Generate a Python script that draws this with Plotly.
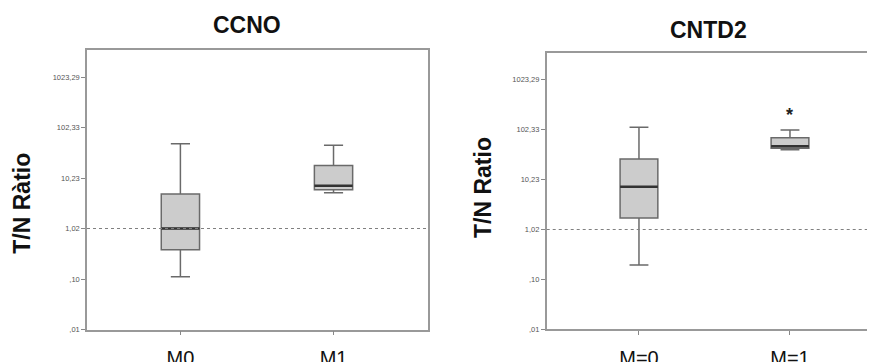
import math
import plotly.graph_objects as go

# ---- data ----
panels = ["CCNO", "CNTD2"]
y_titles = ["T/N Ràtio", "T/N Ratio"]
cat_labels = [["M0", "M1"], ["M=0", "M=1"]]

ccno_lower = [0.113, 5.21]
ccno_q1 = [0.387, 5.97]
ccno_median = [1.02, 7.17]
ccno_q3 = [4.91, 18.1]
ccno_upper = [48.7, 45.8]

cntd2_lower = [0.199, 40.6]
cntd2_q1 = [1.74, 43.4]
cntd2_median = [7.38, 47.5]
cntd2_q3 = [26.5, 70.8]
cntd2_upper = [114.0, 101.0]

tick_vals = [0.0102329, 0.102329, 1.02329, 10.2329, 102.329, 1023.29]
tick_text = [",01", ",10", "1,02", "10,23", "102,33", "1023,29"]
ref_value = 1.02329
significant = [[False, False], [False, True]]

FONT = "Liberation Sans, Arial, sans-serif"
BOX_W = 0.25
OFF = 8  # page body margin offset
W, H = 875 - OFF, 362 - OFF


def px(xp):
    return (xp - OFF) / W


def py(yp):
    return 1 - (yp - OFF) / H


fig = go.Figure()

stats = [
    (ccno_lower, ccno_q1, ccno_median, ccno_q3, ccno_upper),
    (cntd2_lower, cntd2_q1, cntd2_median, cntd2_q3, cntd2_upper),
]
xranges = [[-0.610, 1.617], [-0.611, 1.563]]
right_end = 875.0

for p, (lo, q1, med, q3, up) in enumerate(stats):
    xa = "x" if p == 0 else "x2"
    ya = "y" if p == 0 else "y2"
    fig.add_trace(go.Box(
        x=[0, 1], q1=q1, median=med, q3=q3, lowerfence=lo, upperfence=up,
        width=BOX_W, whiskerwidth=0.5,
        fillcolor="#cccccc", line=dict(color="#6a6a6a", width=1.5),
        xaxis=xa, yaxis=ya, showlegend=False, hoverinfo="skip",
    ))
    # darker median bars
    for i, m in enumerate(med):
        fig.add_trace(go.Scatter(
            x=[i - BOX_W / 2, i + BOX_W / 2], y=[m, m], mode="lines",
            line=dict(color="#333333", width=2.5),
            xaxis=xa, yaxis=ya, showlegend=False, hoverinfo="skip",
        ))
    # dotted reference line
    fig.add_trace(go.Scatter(
        x=xranges[p], y=[ref_value, ref_value], mode="lines",
        line=dict(color="#808080", width=1.2, dash="dot"),
        xaxis=xa, yaxis=ya, showlegend=False, hoverinfo="skip",
    ))
    for i, sig in enumerate(significant[p]):
        if sig:
            fig.add_annotation(
                x=i, y=math.log10(up[i]), xref=xa, yref=ya, text="<b>*</b>",
                showarrow=False, yshift=15,
                font=dict(family=FONT, size=18, color="#222222"),
            )

yaxis_common = dict(
    type="log", tickvals=tick_vals, ticktext=tick_text, ticks="outside",
    ticklen=4, tickwidth=1, tickcolor="#888888", showgrid=False, zeroline=False,
    showline=True, linecolor="#999999", linewidth=1.5, automargin=False,
    tickfont=dict(family=FONT, size=7.5, color="#555555"),
)
xaxis_common = dict(
    tickvals=[0, 1], ticks="outside", ticklen=4, tickwidth=1, tickcolor="#888888",
    showgrid=False, zeroline=False, showline=True, linecolor="#999999", linewidth=1.5,
    automargin=False,
    tickfont=dict(family=FONT, size=20, color="#111111"), ticklabelstandoff=6,
)

fig.update_layout(
    width=W, height=H, margin=dict(l=0, r=0, t=0, b=0, autoexpand=False),
    paper_bgcolor="white", plot_bgcolor="white",
    xaxis=dict(xaxis_common, domain=[px(87), px(428)], range=xranges[0],
               ticktext=cat_labels[0], mirror=True, anchor="y"),
    yaxis=dict(yaxis_common, domain=[py(329.5), py(50)], range=[-1.990, 3.545],
               mirror=True, anchor="x"),
    xaxis2=dict(xaxis_common, domain=[px(546.7), px(right_end)], range=xranges[1],
                ticktext=cat_labels[1], mirror=True, anchor="y2"),
    yaxis2=dict(yaxis_common, domain=[py(329.3), py(52.7)], range=[-1.990, 3.553],
                mirror=False, anchor="x2"),
)

# panel titles
title_pos = [(246.7, 25.3), (708, 29.5)]
for p, (tx, ty) in enumerate(title_pos):
    fig.add_annotation(
        x=px(tx), y=py(ty), xref="paper", yref="paper",
        text=panels[p], showarrow=False, xanchor="center", yanchor="middle",
        font=dict(family=FONT, size=23, color="#111111", weight="bold"),
    )

# y-axis titles
ytitle_pos = [(21.7, 203), (483, 188)]
for p, (tx, ty) in enumerate(ytitle_pos):
    fig.add_annotation(
        x=px(tx), y=py(ty), xref="paper", yref="paper",
        text=y_titles[p], showarrow=False, textangle=-90,
        xanchor="center", yanchor="middle",
        font=dict(family=FONT, size=23, color="#111111", weight="bold"),
    )

fig.write_html("out.html")
